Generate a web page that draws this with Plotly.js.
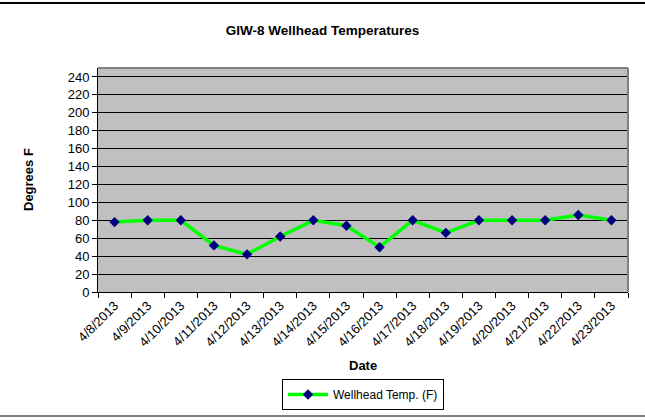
<!DOCTYPE html>
<html>
<head>
<meta charset="utf-8">
<script src="https://cdn.plot.ly/plotly-3.0.1.min.js"></script>
<style>html,body{margin:0;padding:0;background:#fff;}#chart{width:645px;height:420px;}</style>
</head>
<body>
<div id="chart"></div>
<script>
const dates = ["4/8/2013","4/9/2013","4/10/2013","4/11/2013","4/12/2013","4/13/2013","4/14/2013","4/15/2013","4/16/2013","4/17/2013","4/18/2013","4/19/2013","4/20/2013","4/21/2013","4/22/2013","4/23/2013"];
const temps = [78, 80, 80, 52, 42, 62, 80, 74, 50, 80, 66, 80, 80, 80, 86, 80];
const yTicks = [0,20,40,60,80,100,120,140,160,180,200,220,240];
const seriesName = "Wellhead Temp. (F)";
const chartTitle = "GIW-8 Wellhead Temperatures";
const xTitle = "Date";
const yTitle = "Degrees F";

const font = "Liberation Sans, Arial, sans-serif";
const PL = 98, PR = 628, PT = 68, PB = 292, W = 645, H = 420;
const pw = PR - PL, ph = PB - PT;
const px = v => (v - PL) / pw;
const py = v => (PB - v) / ph;

const trace = {
  x: dates, y: temps, type: "scatter", mode: "lines+markers", name: seriesName,
  line: {color: "#00FF00", width: 3.5},
  marker: {symbol: "diamond", color: "#000080", size: 8}
};

const layout = {
  width: W, height: H,
  margin: {l: PL, r: W - PR, t: PT, b: H - PB},
  paper_bgcolor: "#ffffff",
  plot_bgcolor: "#C0C0C0",
  font: {family: font, size: 13, color: "#000"},
  title: {text: "<b>" + chartTitle + "</b>", font: {family: font, size: 13.5, color: "#000"}, x: 0.5, xanchor: "center", y: 1 - 30/H, yanchor: "middle"},
  showlegend: true,
  legend: {orientation: "h", xref: "paper", x: 0.5, xanchor: "center",
           yref: "container", y: 10/H, yanchor: "bottom",
           bordercolor: "#000", borderwidth: 1, font: {family: font, size: 12}, bgcolor: "#fff",
           itemwidth: 40, tracegroupgap: 0},
  xaxis: {
    type: "category", tickangle: -45, tickfont: {family: font, size: 13},
    ticks: "outside", tickson: "boundaries", ticklen: 5, tickcolor: "#000",
    showline: true, linecolor: "#000", linewidth: 1, showgrid: false,
    automargin: false, range: [-0.5, dates.length - 0.5]
  },
  yaxis: {
    range: [0, 250], tickvals: yTicks, ticktext: yTicks.map(String),
    tickfont: {family: font, size: 13},
    ticks: "outside", ticklen: 5, tickcolor: "#000",
    showline: true, linecolor: "#000", linewidth: 1,
    showgrid: true, gridcolor: "#000", gridwidth: 1, zeroline: false,
    automargin: false
  },
  annotations: [
    {text: "<b>" + xTitle + "</b>", xref: "paper", yref: "paper", x: 0.5, y: py(365), xanchor: "center", yanchor: "middle", showarrow: false, font: {family: font, size: 13}},
    {text: "<b>" + yTitle + "</b>", xref: "paper", yref: "paper", x: px(28), y: 0.5, xanchor: "center", yanchor: "middle", textangle: -90, showarrow: false, font: {family: font, size: 13}}
  ],
  shapes: [
    {type: "line", xref: "paper", yref: "paper", x0: 0, x1: 1, y0: 1, y1: 1, line: {color: "#808080", width: 2}},
    {type: "line", xref: "paper", yref: "paper", x0: 1, x1: 1, y0: 0, y1: 1, line: {color: "#808080", width: 2}},
    {type: "line", xref: "paper", yref: "paper", x0: px(0), x1: px(W), y0: py(3), y1: py(3), line: {color: "#000", width: 2}},
    {type: "line", xref: "paper", yref: "paper", x0: px(0), x1: px(W), y0: py(416), y1: py(416), line: {color: "#808080", width: 2}}
  ]
};

Plotly.newPlot("chart", [trace], layout, {displayModeBar: false, staticPlot: true});
</script>
</body>
</html>
